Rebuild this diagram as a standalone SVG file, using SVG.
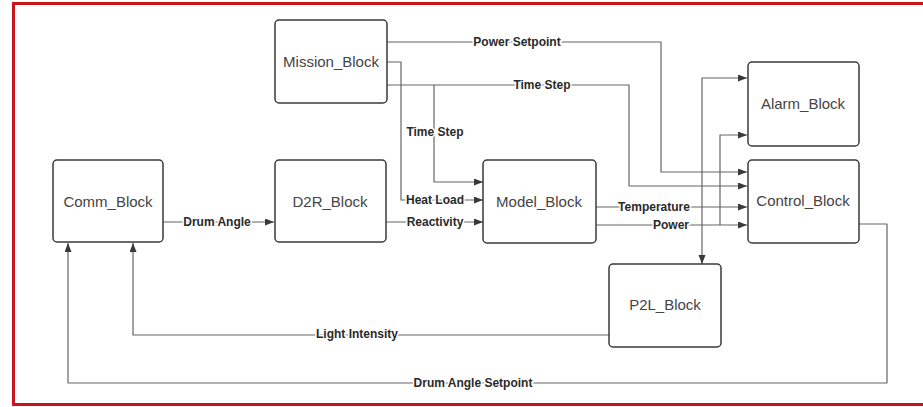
<svg xmlns="http://www.w3.org/2000/svg" width="923" height="407" viewBox="0 0 923 407">
<defs>
<marker id="arr" markerUnits="userSpaceOnUse" markerWidth="10" markerHeight="8" refX="9" refY="3.5" orient="auto">
<path d="M0,0 L9,3.5 L0,7 z" fill="#3a3a3a"/>
</marker>
<style>
.box{fill:#fff;stroke:#3a3a3a;stroke-width:1.5}
.name{font-family:"Liberation Sans",Arial,sans-serif;font-size:15px;fill:#444;text-anchor:middle;dominant-baseline:central}
.edge{fill:none;stroke:#666;stroke-width:1.2;stroke-linejoin:round}
.lbl{font-family:"Liberation Sans",Arial,sans-serif;font-size:12px;font-weight:bold;fill:#2a2a2a;text-anchor:middle;dominant-baseline:central;paint-order:stroke;stroke:#fff;stroke-width:3px}
</style>
</defs>
<rect x="0" y="0" width="923" height="407" fill="#fff"/>
<rect x="13.5" y="3.5" width="915" height="401" fill="none" stroke="#c4161c" stroke-width="3"/>
<g id="connectors">
<path class="edge" d="M163,222 H274" marker-end="url(#arr)"/>
<path class="edge" d="M386,222 H483" marker-end="url(#arr)"/>
<path class="edge" d="M387,62 H401 V200 H483" marker-end="url(#arr)"/>
<path class="edge" d="M387,85 H434 V182 H483" marker-end="url(#arr)"/>
<path class="edge" d="M434,85 H629 V186 H747" marker-end="url(#arr)"/>
<path class="edge" d="M387,42 H661 V172 H747" marker-end="url(#arr)"/>
<path class="edge" d="M596,207 H747" marker-end="url(#arr)"/>
<path class="edge" d="M596,225 H747" marker-end="url(#arr)"/>
<path class="edge" d="M702,207 V78 H747" marker-end="url(#arr)"/>
<path class="edge" d="M702,207 V264" marker-end="url(#arr)"/>
<path class="edge" d="M720,225 V135 H747" marker-end="url(#arr)"/>
<path class="edge" d="M859,224 H887 V383 H68 V243" marker-end="url(#arr)"/>
<path class="edge" d="M609,335 H133 V243" marker-end="url(#arr)"/>
<text class="lbl" x="217" y="222">Drum Angle</text>
<text class="lbl" x="435" y="222">Reactivity</text>
<text class="lbl" x="435" y="200">Heat Load</text>
<text class="lbl" x="435" y="132">Time Step</text>
<text class="lbl" x="542" y="85">Time Step</text>
<text class="lbl" x="517" y="42">Power Setpoint</text>
<text class="lbl" x="654" y="207">Temperature</text>
<text class="lbl" x="671" y="225">Power</text>
<text class="lbl" x="357" y="334">Light Intensity</text>
<text class="lbl" x="473" y="383">Drum Angle Setpoint</text>
</g>
<g id="mission"><rect class="box" x="275" y="20" width="112" height="83" rx="4"/><text class="name" x="331" y="61">Mission_Block</text></g>
<g id="comm"><rect class="box" x="53" y="160" width="110" height="82" rx="4"/><text class="name" x="108" y="201">Comm_Block</text></g>
<g id="d2r"><rect class="box" x="275" y="160" width="111" height="82" rx="4"/><text class="name" x="330" y="201">D2R_Block</text></g>
<g id="model"><rect class="box" x="483" y="160" width="113" height="83" rx="4"/><text class="name" x="539" y="201">Model_Block</text></g>
<g id="alarm"><rect class="box" x="748" y="62" width="111" height="84" rx="4"/><text class="name" x="803" y="103">Alarm_Block</text></g>
<g id="control"><rect class="box" x="748" y="160" width="111" height="83" rx="4"/><text class="name" x="803" y="200">Control_Block</text></g>
<g id="p2l"><rect class="box" x="609" y="264" width="112" height="83" rx="4"/><text class="name" x="665" y="304">P2L_Block</text></g>
</svg>
